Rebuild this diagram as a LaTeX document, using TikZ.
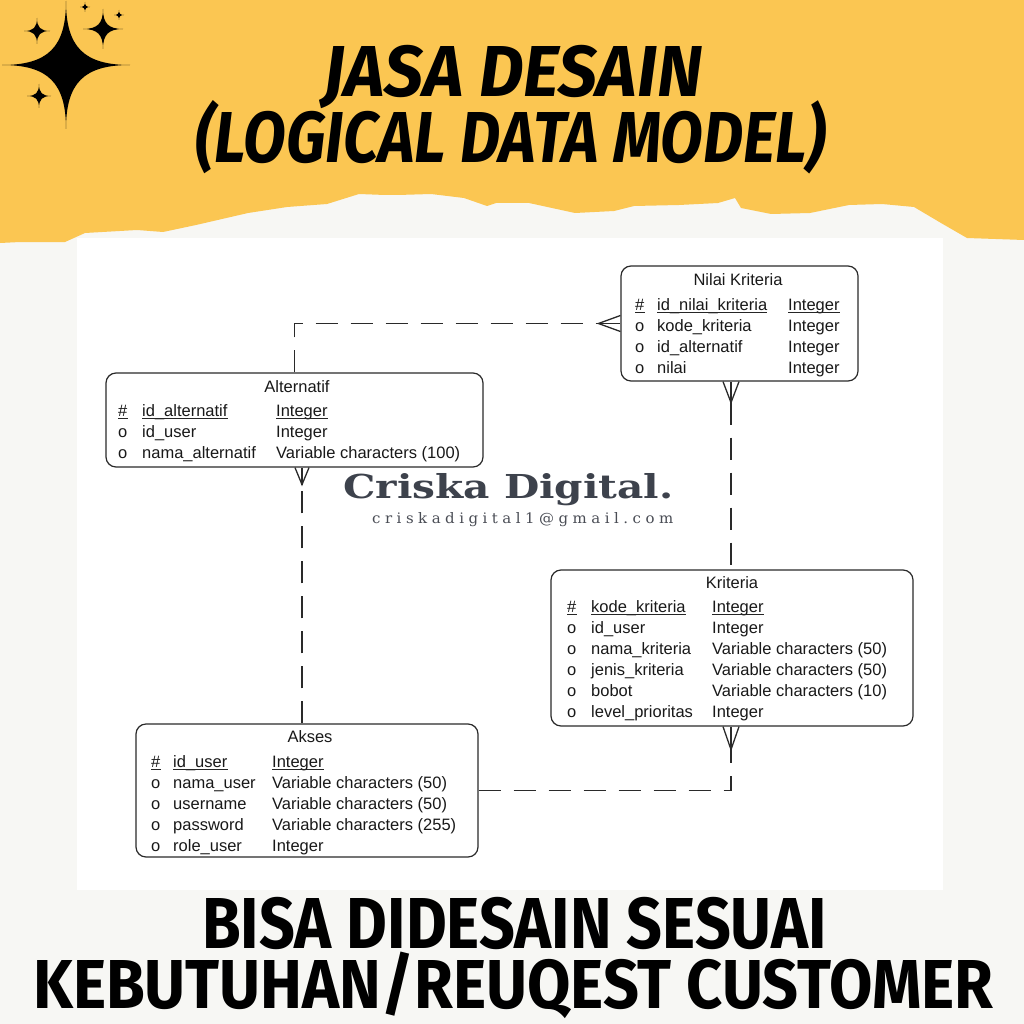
\documentclass[tikz,border=0pt]{standalone}
\usepackage{fontspec}
\usepackage{graphicx}
\setmainfont{Liberation Sans}
\newfontfamily\erfont{Liberation Sans}
\newfontfamily\titlefont{Fira Sans}
\newfontfamily\wmfont{DejaVu Serif}
\newfontfamily\mailfont[LetterSpace=30]{DejaVu Serif}
\definecolor{ybg}{HTML}{FBC652}
\definecolor{paper}{HTML}{F7F7F4}
\definecolor{erline}{HTML}{2A2A2A}
\definecolor{wmcol}{HTML}{3D424C}
\definecolor{mailcol}{HTML}{4A4D55}
\newcommand\sparkle[3]{%
  \fill[black] (#1,#2-#3)
    .. controls (#1,#2-0.28*#3) and (#1+0.28*#3,#2) .. (#1+#3,#2)
    .. controls (#1+0.28*#3,#2) and (#1,#2+0.28*#3) .. (#1,#2+#3)
    .. controls (#1,#2+0.28*#3) and (#1-0.28*#3,#2) .. (#1-#3,#2)
    .. controls (#1-0.28*#3,#2) and (#1,#2-0.28*#3) .. (#1,#2-#3) -- cycle;}
\newcommand\pkrow[7]{%
  \node[cell] (#1m) at (#2,#5) {\#};
  \node[cell] (#1f) at (#3,#5) {#6};
  \node[cell] (#1t) at (#4,#5) {#7};
  \draw[uline] ([yshift=-2.5pt]#1m.base west) -- ([yshift=-2.5pt]#1m.base east);
  \draw[uline] ([yshift=-2.5pt]#1f.base west) -- ([yshift=-2.5pt]#1f.base east);
  \draw[uline] ([yshift=-2.5pt]#1t.base west) -- ([yshift=-2.5pt]#1t.base east);}
\newcommand\attrow[7]{%
  \node[cell] (#1m) at (#2,#5) {o};
  \node[cell] (#1f) at (#3,#5) {#6};
  \node[cell] (#1t) at (#4,#5) {#7};}
\begin{document}
\begin{tikzpicture}[x=1pt,y=-1pt,
  entity/.style={draw=erline,line width=1.2pt,fill=white,rounded corners=10pt,inner sep=0pt},
  cell/.style={anchor=base west,inner sep=0pt,font=\erfont\fontsize{16.5}{18}\selectfont,text=black!90},
  etitle/.style={anchor=base,inner sep=0pt,font=\erfont\fontsize{16.5}{18}\selectfont,text=black!90},
  uline/.style={line width=0.9pt,black!85},
  conn/.style={draw=erline,line width=1.4pt,dash pattern=on 22pt off 13pt},
  crowline/.style={draw=erline,line width=1.3pt},
  big/.style={anchor=base west,inner sep=0pt}]
\useasboundingbox (0,0) rectangle (1024,1024);
% backgrounds
\fill[paper] (0,0) rectangle (1024,1024);
\fill[ybg] (0,0) -- (1024,0) -- (1024,240) -- (967,238) -- (941,223) -- (914,207)
  -- (882,204) -- (849,205) -- (810,213) -- (771,214) -- (741,208) -- (735,198)
  -- (718,203) -- (679,205) -- (634,206) -- (614,211) -- (575,213) -- (529,203)
  -- (496,203) -- (487,206) -- (464,198) -- (431,194) -- (398,195) -- (385,195)
  -- (359,194) -- (327,204) -- (287,207) -- (248,213) -- (196,225) -- (163,232)
  -- (137,230) -- (85,233) -- (65,242) -- (20,242) -- (0,243) -- cycle;
\fill[white] (77,238) rectangle (943,890);
% sparkles
\sparkle{66}{65}{64}
\sparkle{37}{31}{13}
\sparkle{103}{29}{20}
\sparkle{39}{96}{12}
\sparkle{85}{7}{5}
\sparkle{119}{15}{5}
% title
\node[big] (title1) at (323,97) {\titlefont\bfseries\itshape\resizebox{379pt}{50pt}{\smash{JASA DESAIN}\vphantom{E}}};
\node[big] (title2) at (195,163) {\titlefont\bfseries\itshape\resizebox{631pt}{50pt}{\smash{(LOGICAL DATA MODEL)}\vphantom{L}}};
% bottom text
\node[big] (bottom1) at (202,948) {\titlefont\bfseries\resizebox{624pt}{50pt}{\smash{BISA DIDESAIN SESUAI}\vphantom{B}}};
\node[big] (bottom2) at (33,1008) {\titlefont\bfseries\resizebox{960pt}{48pt}{\smash{KEBUTUHAN/REUQEST CUSTOMER}\vphantom{K}}};
% watermark
\node[big,text=wmcol] (wm) at (343,498) {\wmfont\bfseries\resizebox{330pt}{24pt}{\smash{Criska Digital.}\vphantom{D}}};
\node[big,text=mailcol] (mail) at (372,523) {\mailfont\resizebox{301pt}{11pt}{\smash{criskadigital1@gmail.com}\vphantom{k}}};
% entities
\node[entity,minimum width=237pt,minimum height=115pt] (nk) at (739.5,323.5) {};
\node[entity,minimum width=377pt,minimum height=94pt] (alt) at (294.5,420) {};
\node[entity,minimum width=362pt,minimum height=156pt] (kri) at (732,648) {};
\node[entity,minimum width=342pt,minimum height=133pt] (aks) at (307,790.5) {};
% Nilai Kriteria
\node[etitle] (nkT) at (738,285) {Nilai Kriteria};
\pkrow{nkA}{635}{657}{788}{310}{id\_nilai\_kriteria}{Integer}
\attrow{nkB}{635}{657}{788}{331}{kode\_kriteria}{Integer}
\attrow{nkC}{635}{657}{788}{352}{id\_alternatif}{Integer}
\attrow{nkD}{635}{657}{788}{373}{nilai}{Integer}
% Alternatif
\node[etitle] (altT) at (297,392) {Alternatif};
\pkrow{altA}{118}{142}{276}{416}{id\_alternatif}{Integer}
\attrow{altB}{118}{142}{276}{437}{id\_user}{Integer}
\attrow{altC}{118}{142}{276}{458}{nama\_alternatif}{Variable characters (100)}
% Kriteria
\node[etitle] (kriT) at (732,588) {Kriteria};
\pkrow{kriA}{567}{591}{712}{612}{kode\_kriteria}{Integer}
\attrow{kriB}{567}{591}{712}{633}{id\_user}{Integer}
\attrow{kriC}{567}{591}{712}{654}{nama\_kriteria}{Variable characters (50)}
\attrow{kriD}{567}{591}{712}{675}{jenis\_kriteria}{Variable characters (50)}
\attrow{kriE}{567}{591}{712}{696}{bobot}{Variable characters (10)}
\attrow{kriF}{567}{591}{712}{717}{level\_prioritas}{Integer}
% Akses
\node[etitle] (aksT) at (310,742) {Akses};
\pkrow{aksA}{151}{173}{272}{767}{id\_user}{Integer}
\attrow{aksB}{151}{173}{272}{788}{nama\_user}{Variable characters (50)}
\attrow{aksC}{151}{173}{272}{809}{username}{Variable characters (50)}
\attrow{aksD}{151}{173}{272}{830}{password}{Variable characters (255)}
\attrow{aksE}{151}{173}{272}{851}{role\_user}{Integer}
% connector helper coordinates
\coordinate (cx2) at (731,0);
\coordinate (cx3) at (302,0);
% 1: Alternatif -> Nilai Kriteria (many at Nilai Kriteria)
\coordinate (ap1) at ([xshift=-22pt]nk.west);
\draw[conn] (alt.north) |- (ap1);
\draw[crowline] ([yshift=8pt]nk.west) -- (ap1) -- ([yshift=-8pt]nk.west);
\draw[crowline] (ap1) -- (nk.west);
% 2: Kriteria -> Nilai Kriteria (many at Nilai Kriteria)
\coordinate (nkb) at (cx2 |- nk.south);
\coordinate (ap2) at ([yshift=-21pt]nkb);
\draw[conn] (ap2) -- (cx2 |- kri.north);
\draw[crowline] ([xshift=-8pt]nkb) -- (ap2) -- ([xshift=8pt]nkb);
\draw[crowline] (ap2) -- (nkb);
% 3: Akses -> Alternatif (many at Alternatif)
\coordinate (altb) at (cx3 |- alt.south);
\coordinate (ap3) at ([yshift=-17pt]altb);
\draw[conn] (cx3 |- aks.north) -- (ap3);
\draw[crowline] ([xshift=-7pt]altb) -- (ap3) -- ([xshift=7pt]altb);
\draw[crowline] (ap3) -- (altb);
% 4: Akses -> Kriteria (many at Kriteria)
\coordinate (krib) at (cx2 |- kri.south);
\coordinate (ap4) at ([yshift=-23pt]krib);
\draw[conn] (aks.east) -| (ap4);
\draw[crowline] ([xshift=-8pt]krib) -- (ap4) -- ([xshift=8pt]krib);
\draw[crowline] (ap4) -- (krib);
\end{tikzpicture}
\end{document}
